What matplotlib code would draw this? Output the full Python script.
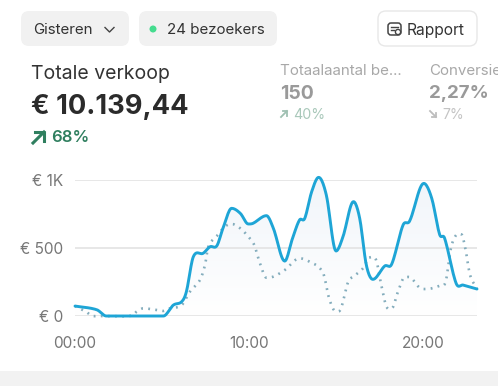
import numpy as np
import matplotlib
matplotlib.use("Agg")
import matplotlib.pyplot as plt
from matplotlib.patches import FancyBboxPatch, Rectangle, Circle, Polygon
from matplotlib.colors import LinearSegmentedColormap

plt.rcParams['font.family'] = ['Inter', 'DejaVu Sans']

blue_h = [0, 1.25, 1.8, 5.08, 5.65, 6.13, 6.4, 6.8, 7.36, 7.76, 8.15, 8.5, 9.0, 9.5, 9.96, 10.23, 11.0, 11.4, 12.05, 12.5, 12.9, 13.2, 13.6, 14.0, 14.44, 15.0, 15.4, 16.0, 16.36, 16.74, 17.12, 17.8, 18.2, 18.85, 19.23, 20.04, 20.5, 20.95, 21.24, 21.9, 22.3, 23.1]
blue_v = [73, 46, 0, 0, 80, 105, 178, 435, 460, 508, 515, 643, 790, 753, 675, 680, 736, 643, 403, 570, 704, 716, 912, 1017, 888, 477, 582, 839, 716, 374, 269, 367, 381, 667, 697, 973, 863, 599, 570, 240, 227, 198]
dot_h = [0, 0.63, 0.96, 1.34, 3.26, 3.54, 3.93, 4.7, 5.08, 5.46, 6.13, 6.6, 7.18, 7.47, 7.66, 8.15, 8.6, 9.0, 9.5, 9.96, 10.3, 10.6, 11.0, 11.4, 12.05, 12.9, 13.4, 14.25, 14.6, 14.96, 15.27, 15.7, 16.0, 16.55, 16.93, 17.3, 17.6, 17.9, 18.2, 18.56, 18.94, 19.3, 19.8, 20.2, 20.95, 21.3, 21.6, 21.9, 22.2, 22.43, 22.7, 23.1]
dot_v = [73, 32, 2, 0, 2, 32, 56, 44, 37, 56, 80, 178, 264, 374, 508, 587, 655, 675, 643, 582, 521, 398, 281, 289, 337, 423, 403, 318, 130, 37, 51, 252, 289, 350, 430, 411, 227, 68, 56, 178, 284, 281, 208, 198, 222, 252, 496, 594, 599, 496, 301, 203]
y_ticks = [0, 500, 1000]
y_labels = ['€ 0', '€ 500', '€ 1K']
x_ticks = [0, 10, 20]
x_labels = ['00:00', '10:00', '20:00']


def smooth(xs, ys, n=12):
    """Cubic Hermite drawing of the read points (curve style only)."""
    x = np.asarray(xs, float)
    y = np.asarray(ys, float)
    h = np.diff(x)
    d = np.diff(y) / h
    m = np.zeros_like(y)
    m[0], m[-1] = d[0], d[-1]
    for i in range(1, len(x) - 1):
        if d[i - 1] * d[i] > 0:
            m[i] = (y[i + 1] - y[i - 1]) / (x[i + 1] - x[i - 1])
    ox, oy = [], []
    for i in range(len(h)):
        t = np.linspace(0, 1, n, endpoint=False)
        ox.append(x[i] + t * h[i])
        oy.append((2*t**3 - 3*t**2 + 1) * y[i] + (t**3 - 2*t**2 + t) * h[i] * m[i]
                  + (-2*t**3 + 3*t**2) * y[i + 1] + (t**3 - t**2) * h[i] * m[i + 1])
    return np.r_[np.concatenate(ox), x[-1]], np.r_[np.concatenate(oy), y[-1]]


W, H = 498, 386
fig = plt.figure(figsize=(W / 100, H / 100), dpi=100, facecolor='white')

ui = fig.add_axes([0, 0, 1, 1])
ui.set_xlim(0, W)
ui.set_ylim(H, 0)
ui.axis('off')


def pill(x0, y0, x1, y1, fc, ec='none', r=8, lw=1.0):
    ui.add_patch(FancyBboxPatch((x0 + r, y0 + r), x1 - x0 - 2 * r, y1 - y0 - 2 * r,
                                boxstyle=f'round,pad={r},rounding_size={r}',
                                fc=fc, ec=ec, lw=lw))


pill(21, 11, 129, 46, '#f1f1f1')
pill(139, 11, 277, 46, '#f1f1f1')
pill(378, 11, 477, 46, 'white', '#e8e8e8')
ui.add_patch(Rectangle((0, 371), W, 15, fc='#f2f2f2', ec='none'))

ui.text(33, 30, 'Gisteren', fontsize=10.9, color='#333333', va='center')
ui.plot([105, 109.5, 114], [27.5, 32, 27.5], color='#444444', lw=1.0)
ui.add_patch(Circle((153, 29), 3.5, fc='#45dc8f', ec='none'))
ui.text(167, 30, '24 bezoekers', fontsize=10.9, color='#333333', va='center')
pill(388, 23, 401, 35, 'white', '#444444', r=3, lw=1.1)
ui.plot([391, 398], [26.5, 26.5], color='#444444', lw=1)
ui.plot([391, 394], [29.5, 29.5], color='#444444', lw=1)
ui.add_patch(Circle((398, 32), 2.6, fc='white', ec='#444444', lw=1))
ui.text(407, 30, 'Rapport', fontsize=11.2, color='#333333', va='center')

ui.text(31, 74, 'Totale verkoop', fontsize=14, color='#333333', va='center')
ui.text(31, 107, '€ 10.139,44', fontsize=19.7, fontweight='bold', color='#2b2b2b', va='center')
ui.plot([33, 44], [143, 132], color='#2f7f5f', lw=2.2)
ui.plot([35, 44, 44], [132, 132, 141], color='#2f7f5f', lw=2.2)
ui.text(51, 138, '68%', fontsize=12, fontweight='semibold', color='#2f7f5f', va='center')

ui.text(280, 71, 'Totaalaantal be...', fontsize=10.9, color='#a8a8a8', va='center')
ui.text(280, 94, '150', fontsize=14, fontweight='bold', color='#9a9a9a', va='center')
ui.plot([281, 287], [117, 111], color='#9fc0b2', lw=1.3)
ui.plot([282.5, 287, 287], [111, 111, 115.5], color='#9fc0b2', lw=1.3)
ui.text(293, 115, '40%', fontsize=10.2, color='#a9c8ba', va='center')

ui.text(429, 71, 'Conversie', fontsize=10.9, color='#a8a8a8', va='center', clip_on=True)
ui.text(429, 94, '2,27%', fontsize=13.5, fontweight='bold', color='#9a9a9a', va='center', clip_on=True)
ui.plot([430, 436], [111, 117], color='#bdbdbd', lw=1.3)
ui.plot([431.5, 436, 436], [117, 117, 112.5], color='#bdbdbd', lw=1.3)
ui.text(442, 115, '7%', fontsize=10.2, color='#c4c4c4', va='center')

# Chart axes: 00:00 at px 75, hour 23.1 at px 477; value 0 at py 316, 1000 at py 179.7
ax = fig.add_axes([75 / W, (H - 316) / H, (477 - 75) / W, (316 - 179.7) / H])
ax.patch.set_alpha(0)
for s in ax.spines.values():
    s.set_visible(False)
ax.set_xticks(x_ticks, x_labels)
ax.set_yticks(y_ticks, y_labels)
ax.tick_params(axis='both', length=0, labelsize=11.1, labelcolor='#777777')
ax.tick_params(axis='y', pad=8.6)
ax.tick_params(axis='x', pad=14.5)
ax.grid(axis='y', color='#e3e3e3', lw=1.2)
ax.set_axisbelow(True)

bx, by = smooth(blue_h, blue_v)
dx, dy = smooth(dot_h, dot_v)

cmap = LinearSegmentedColormap.from_list('fade', ['#ffffff', '#f1f5fa'])
img = ax.imshow(np.linspace(1, 0, 64).reshape(-1, 1), cmap=cmap, aspect='auto',
                extent=(0, 23.1, 0, 1000), origin='upper', zorder=0)
poly = Polygon(np.c_[np.r_[bx, bx[-1], bx[0]], np.r_[by, 0, 0]], transform=ax.transData,
               fc='none', ec='none')
ax.add_patch(poly)
img.set_clip_path(poly)
ax.set_xlim(0, 23.1)
ax.set_ylim(0, 1000)

ax.plot(dx, dy, color='#84adbd', lw=1.9, ls=(0, (0.7, 2.0)), zorder=2, clip_on=False)
ax.plot(bx, by, color='#1ea5d6', lw=2.1, zorder=3, clip_on=False, solid_capstyle='round')

fig.savefig('out.png', dpi=100, facecolor='white')
